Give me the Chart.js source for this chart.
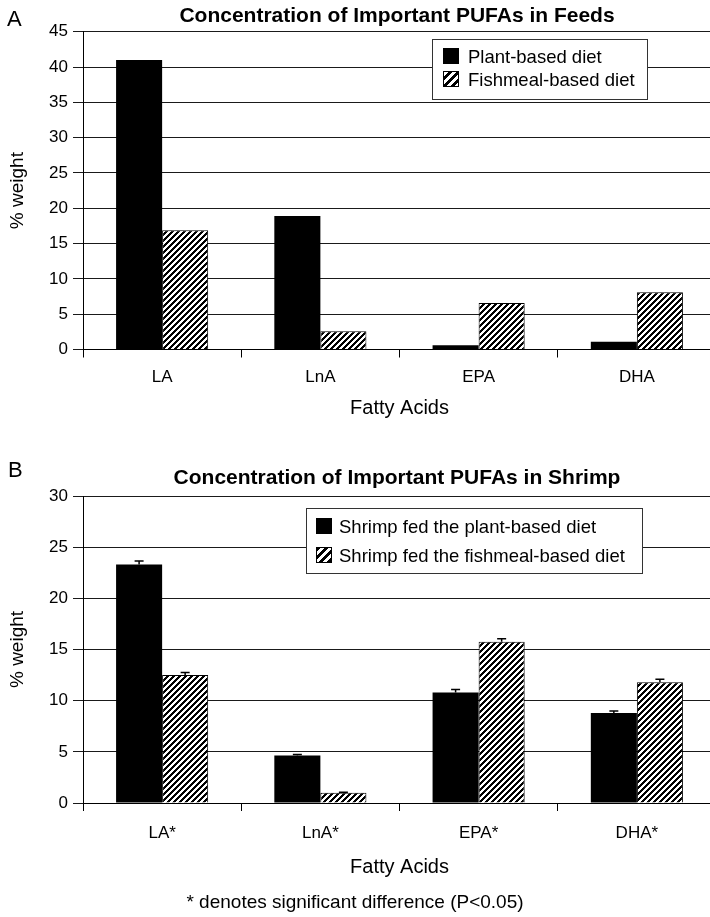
<!DOCTYPE html>
<html><head><meta charset="utf-8">
<script src="https://cdn.jsdelivr.net/npm/chart.js@4.4.1/dist/chart.umd.min.js"></script>
<style>
html,body{margin:0;padding:0;background:#fff;overflow:hidden;width:710px;height:917px;}
#wa{position:absolute;left:0;top:0;width:720px;height:440px;}
#wb{position:absolute;left:0;top:440px;width:720px;height:477px;}
canvas{display:block;}
</style></head><body>
<div id="wa"><canvas id="ca" width="720" height="440"></canvas></div>
<div id="wb"><canvas id="cb" width="720" height="477"></canvas></div>
<script>
// ---- data ----
const feedCategories = ['LA', 'LnA', 'EPA', 'DHA'];
const feedPlant = [41.0, 18.9, 0.6, 1.1];
const feedFish = [16.9, 2.6, 6.6, 8.1];
const feedSeriesNames = ['Plant-based diet', 'Fishmeal-based diet'];
const feedTickMax = 45;
const feedTickStep = 5;

const shrimpCategories = ['LA*', 'LnA*', 'EPA*', 'DHA*'];
const shrimpPlant = [23.3, 4.65, 10.8, 8.8];
const shrimpPlantErr = [0.35, 0.1, 0.3, 0.2];
const shrimpFish = [12.5, 1.0, 15.75, 11.8];
const shrimpFishErr = [0.25, 0.05, 0.3, 0.3];
const shrimpSeriesNames = ['Shrimp fed the plant-based diet', 'Shrimp fed the fishmeal-based diet'];
const shrimpTickMax = 30;
const shrimpTickStep = 5;

const titleA = 'Concentration of Important PUFAs in Feeds';
const titleB = 'Concentration of Important PUFAs in Shrimp';
const yTitle = '% weight';
const xTitle = 'Fatty Acids';
const footnote = '* denotes significant difference (P<0.05)';

// ---- styling ----
const FAM = '"Liberation Sans", Arial, Helvetica, sans-serif';
Chart.defaults.font.family = FAM;
Chart.defaults.color = '#000';

function hatchPattern(ctx, n, black) {
  const c = document.createElement('canvas');
  c.width = c.height = n;
  const x = c.getContext('2d');
  const img = x.createImageData(n, n);
  for (let py = 0; py < n; py++) {
    for (let px = 0; px < n; px++) {
      const on = ((px + py) % n) < black;
      const v = on ? 0 : 255;
      const k = (py * n + px) * 4;
      img.data[k] = img.data[k + 1] = img.data[k + 2] = v;
      img.data[k + 3] = 255;
    }
  }
  x.putImageData(img, 0, 0);
  return ctx.createPattern(c, 'repeat');
}

const errorBars = {
  id: 'errorBars',
  afterDatasetsDraw(chart) {
    const ctx = chart.ctx, y = chart.scales.y;
    chart.data.datasets.forEach((ds, di) => {
      if (!ds.errors) return;
      const meta = chart.getDatasetMeta(di);
      meta.data.forEach((bar, i) => {
        const top = y.getPixelForValue(ds.data[i]);
        const end = y.getPixelForValue(ds.data[i] + ds.errors[i]);
        ctx.save();
        ctx.strokeStyle = '#000';
        ctx.lineWidth = 1.5;
        ctx.beginPath();
        ctx.moveTo(bar.x, top);
        ctx.lineTo(bar.x, end);
        ctx.moveTo(bar.x - 4.5, end);
        ctx.lineTo(bar.x + 4.5, end);
        ctx.stroke();
        ctx.restore();
      });
    });
  }
};

const deco = {
  id: 'deco',
  afterDraw(chart, args, o) {
    const ctx = chart.ctx;
    ctx.save();
    ctx.fillStyle = '#000';
    ctx.textBaseline = 'alphabetic';
    // panel letter
    ctx.font = '22px ' + FAM;
    ctx.textAlign = 'left';
    ctx.fillText(o.letter, o.letterX, o.letterY);
    // title
    ctx.font = 'bold 21px ' + FAM;
    ctx.textAlign = 'center';
    ctx.fillText(o.title, o.titleX, o.titleY);
    // legend
    const L = o.legend;
    ctx.fillStyle = '#fff';
    ctx.fillRect(L.x, L.y, L.w, L.h);
    ctx.strokeStyle = '#333';
    ctx.lineWidth = 1;
    ctx.strokeRect(L.x + 0.5, L.y + 0.5, L.w, L.h);
    ctx.font = L.font + 'px ' + FAM;
    ctx.textAlign = 'left';
    chart.data.datasets.forEach((ds, i) => {
      const by = L.rows[i];
      ctx.fillStyle = ds.legendFill || ds.backgroundColor;
      ctx.fillRect(L.sx, by - L.sw + 1, L.sw, L.sw);
      ctx.strokeStyle = '#000';
      ctx.strokeRect(L.sx + 0.5, by - L.sw + 1.5, L.sw - 1, L.sw - 1);
      ctx.fillStyle = '#000';
      ctx.fillText(ds.label, L.tx, by);
    });
    // footnote
    if (o.foot) {
      ctx.font = '19px ' + FAM;
      ctx.textAlign = 'center';
      ctx.fillText(o.foot, o.footX, o.footY);
    }
    ctx.restore();
  }
};

function makeChart(id, cats, s1, s2, names, err1, err2, yMax, yStep, tickPad, titlePadBottom, xH, padTop, decoOpts) {
  const canvas = document.getElementById(id);
  const ctx = canvas.getContext('2d');
  const pat = hatchPattern(ctx, 6, 3);
  const patL = hatchPattern(ctx, 8, 4);
  return new Chart(ctx, {
    type: 'bar',
    data: {
      labels: cats,
      datasets: [
        { label: names[0], data: s1, errors: err1, backgroundColor: '#000', borderColor: '#000', borderWidth: 0 },
        { label: names[1], data: s2, errors: err2, backgroundColor: pat, legendFill: patL, borderColor: '#000', borderWidth: 1 }
      ]
    },
    options: {
      responsive: false,
      animation: false,
      devicePixelRatio: 1,
      layout: { padding: { top: padTop, right: 4, bottom: 0, left: 0 } },
      datasets: { bar: { barPercentage: 1.0, categoryPercentage: 0.582 } },
      plugins: { legend: { display: false }, title: { display: false }, tooltip: { enabled: false }, deco: decoOpts },
      scales: {
        x: {
          grid: { display: true, drawOnChartArea: false, tickLength: 8, color: '#000', lineWidth: 1, offset: true },
          border: { display: true, color: '#000', width: 1 },
          ticks: { font: { size: 17 }, color: '#000', padding: tickPad, maxRotation: 0 },
          title: { display: true, text: xTitle, font: { size: 20 }, color: '#000', padding: { top: 0, bottom: titlePadBottom } },
          afterFit: s => { s.height = xH; }
        },
        y: {
          min: 0, max: yMax,
          grid: { color: '#1a1a1a', lineWidth: 1, tickLength: 10 },
          border: { display: true, color: '#000', width: 1 },
          ticks: { stepSize: yStep, font: { size: 17 }, color: '#000', padding: 5 },
          title: { display: true, text: yTitle, font: { size: 19 }, color: '#000', padding: { top: 6, bottom: 0 } },
          afterFit: s => { s.width = 83; }
        }
      }
    },
    plugins: [errorBars, deco]
  });
}

makeChart('ca', feedCategories, feedPlant, feedFish, feedSeriesNames, null, null,
  feedTickMax, feedTickStep, 10, 20, 90.5, 31.7, {
    letter: 'A', letterX: 7, letterY: 26,
    title: titleA, titleX: 397, titleY: 22,
    legend: { x: 432, y: 39, w: 215, h: 60, font: 18.5, sx: 443, sw: 16, tx: 468, rows: [63, 86] }
  });

makeChart('cb', shrimpCategories, shrimpPlant, shrimpFish, shrimpSeriesNames, shrimpPlantErr, shrimpFishErr,
  shrimpTickMax, shrimpTickStep, 12.3, 38, 114, 56, {
    letter: 'B', letterX: 8, letterY: 37,
    title: titleB, titleX: 397, titleY: 44,
    legend: { x: 306, y: 68, w: 336, h: 65, font: 18.5, sx: 316, sw: 16, tx: 339, rows: [93, 122] },
    foot: footnote, footX: 355, footY: 468
  });
</script>
</body></html>
